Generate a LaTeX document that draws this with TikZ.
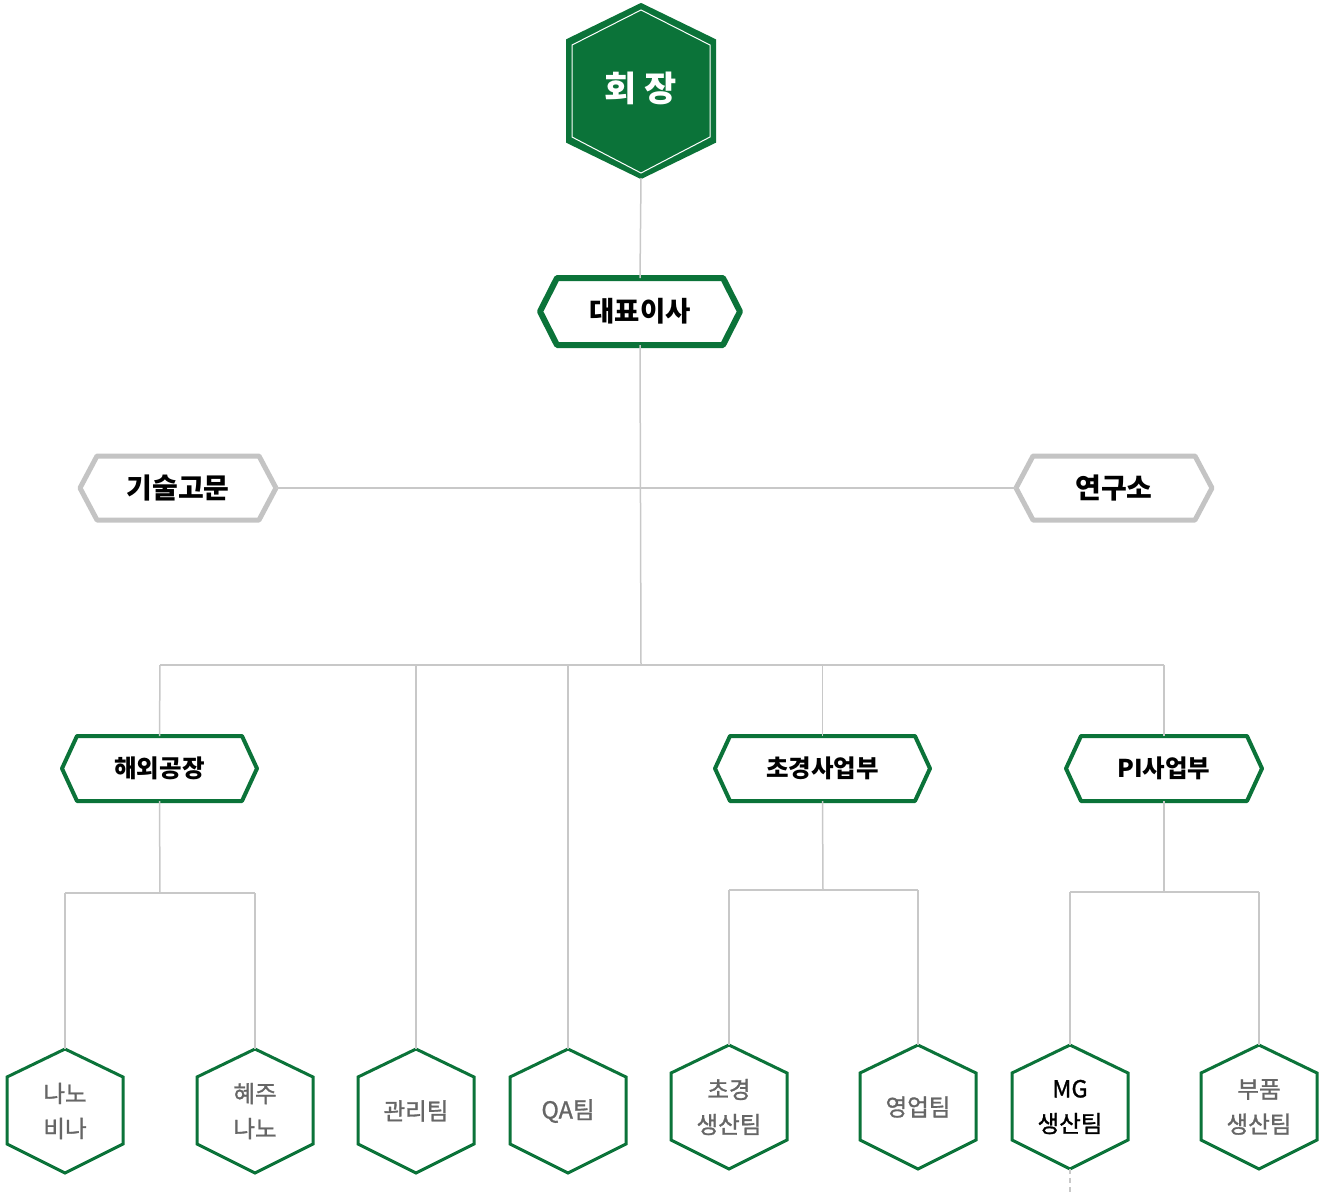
\documentclass[tikz,border=0pt]{standalone}
\usepackage{fontspec}
\setmainfont{Noto Sans CJK KR}
\newfontfamily\lowfont[FakeBold=1.2]{Noto Sans CJK KR}
\definecolor{hgreen}{HTML}{0B7339}
\definecolor{lgray}{HTML}{C8C8C8}
\definecolor{bgray}{HTML}{C4C4C4}
\definecolor{tgray}{HTML}{666666}
\newcommand\VHex[5]{%
  \draw[#4] (#2,#3-62) -- (#2+58,#3-34) -- (#2+58,#3+33) -- (#2,#3+62) -- (#2-58,#3+33) -- (#2-58,#3-34) -- cycle;
  \coordinate (#1-t) at (#2,#3-62);
  \coordinate (#1-b) at (#2,#3+62);
  \node[lowtext] (#1) at (#2,#3) {#5};}
\newcommand\HHex[8]{% name cx cy halfw inset halfh style text
  \draw[#7] (#2-#4,#3) -- (#2-#4+#5,#3-#6) -- (#2+#4-#5,#3-#6) -- (#2+#4,#3) -- (#2+#4-#5,#3+#6) -- (#2-#4+#5,#3+#6) -- cycle;
  \coordinate (#1-t) at (#2,#3-#6);
  \coordinate (#1-b) at (#2,#3+#6);
  \coordinate (#1-l) at (#2-#4,#3);
  \coordinate (#1-r) at (#2+#4,#3);
  \node (#1) at (#2,#3) {#8};}
\begin{document}
\begin{tikzpicture}[x=1pt,y=-1pt,
  conn/.style={draw=lgray,line width=1.5pt},
  vbox/.style={draw=hgreen,line width=3pt,fill=white,line join=miter},
  midbox/.style={draw=hgreen,line width=4pt,fill=white,line join=round},
  topbox/.style={draw=hgreen,line width=6pt,fill=white,line join=round},
  graybox/.style={draw=bgray,line width=5pt,fill=white,line join=round},
  lowtext/.style={align=center,text=tgray,font=\lowfont\fontsize{23.5}{35}\selectfont}]
\useasboundingbox (0,0) rectangle (1326,1192);
\coordinate (j0) at (641,488);
\coordinate (j1) at (641,665);
\coordinate (jl) at (160,665);
\coordinate (jr) at (1164,665);
\coordinate (ja) at (160,893);
\coordinate (jb) at (823,890);
\coordinate (jc) at (1164,892);
% chairman
\draw[fill=hgreen,draw=hgreen,line width=2pt] (641,4) -- (715,40) -- (715,142) -- (641,178) -- (567,142) -- (567,40) -- cycle;
\draw[white,line width=1pt] (641,10) -- (710,45) -- (710,137) -- (641,173) -- (572,137) -- (572,45) -- cycle;
\coordinate (ch-b) at (641,178);
\node[text=white,font=\bfseries\fontsize{35}{38}\selectfont] (ch) at (641,88) {회 장};
% CEO
\HHex{ceo}{640}{311.5}{100}{17}{33.5}{topbox}{\fontsize{27.5}{30}\selectfont\bfseries 대표이사}
\draw[conn] (ch-b) -- (ceo-t);
\draw[conn] (ceo-b) -- (j1);
% advisors
\HHex{adv}{178}{488}{98}{17}{32}{graybox}{\fontsize{28}{30}\selectfont\bfseries 기술고문}
\HHex{lab}{1114}{488}{98}{17}{32}{graybox}{\fontsize{28}{30}\selectfont\bfseries 연구소}
\draw[conn] (adv-r) -- (lab-l);
% level 2
\draw[conn] (jl) -- (jr);
\HHex{ovs}{159.5}{768.5}{97.5}{15}{32.5}{midbox}{\fontsize{24.5}{26}\selectfont\bfseries 해외공장}
\HHex{cgd}{822.5}{768.5}{107.5}{15}{32.5}{midbox}{\fontsize{24.5}{26}\selectfont\bfseries 초경사업부}
\HHex{pid}{1164}{768.5}{98}{15}{32.5}{midbox}{\fontsize{24.5}{26}\selectfont\bfseries PI사업부}
\draw[conn] (jl) -- (ovs-t);
\draw[conn] (j1 -| cgd-t) -- (cgd-t);
\draw[conn] (jr) -- (pid-t);
% bottom
\VHex{nv}{65}{1111}{vbox}{나노\\비나}
\VHex{hn}{255}{1111}{vbox}{혜주\\나노}
\VHex{mg1}{416}{1111}{vbox}{관리팀}
\VHex{qa}{568}{1111}{vbox}{QA팀}
\VHex{cp}{729}{1107}{vbox}{초경\\생산팀}
\VHex{sl}{918}{1107}{vbox}{영업팀}
\VHex{mgp}{1070}{1107}{vbox}{\textcolor{black}{MG}\\\textcolor{black}{생산팀}}
\VHex{bp}{1259}{1107}{vbox}{부품\\생산팀}
\draw[conn] (j1 -| mg1-t) -- (mg1-t);
\draw[conn] (j1 -| qa-t) -- (qa-t);
\draw[conn] (ovs-b) -- (ja);
\draw[conn] (ja -| nv-t) -- (ja -| hn-t);
\draw[conn] (ja -| nv-t) -- (nv-t);
\draw[conn] (ja -| hn-t) -- (hn-t);
\draw[conn] (cgd-b) -- (jb);
\draw[conn] (jb -| cp-t) -- (jb -| sl-t);
\draw[conn] (jb -| cp-t) -- (cp-t);
\draw[conn] (jb -| sl-t) -- (sl-t);
\draw[conn] (pid-b) -- (jc);
\draw[conn] (jc -| mgp-t) -- (jc -| bp-t);
\draw[conn] (jc -| mgp-t) -- (mgp-t);
\draw[conn] (jc -| bp-t) -- (bp-t);
\coordinate (mgend) at (1070,1192);
\draw[conn,dashed,dash pattern=on 5pt off 4pt] (mgp-b) -- (mgend);
\end{tikzpicture}
\end{document}
